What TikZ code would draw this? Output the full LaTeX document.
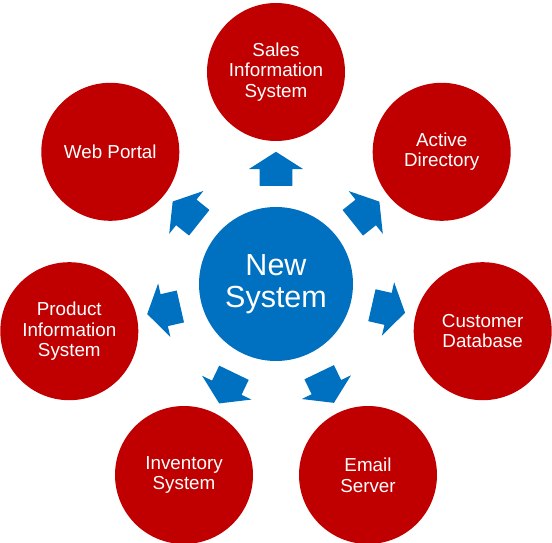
\documentclass[tikz,border=0pt]{standalone}
\usepackage{fontspec}
\setmainfont{Liberation Sans}
\usetikzlibrary{shapes.arrows,calc}
\tikzset{every picture/.style={line width=0.75pt}}
\definecolor{sysred}{RGB}{192,0,0}
\definecolor{sysblue}{RGB}{0,112,192}

\begin{document}
\begin{tikzpicture}[x=1pt, y=1pt,
    outer/.style={circle, fill=sysred, minimum size=138pt, inner sep=0pt, align=center, text=white, font=\fontsize{18.8}{20.6}\selectfont},
    core/.style={circle, fill=sysblue, minimum size=154pt, inner sep=0pt, align=center, text=white, font=\fontsize{30.5}{31.5}\selectfont},
    blockarrow/.style={single arrow, fill=sysblue, minimum height=34pt, inner xsep=0pt, inner ysep=16pt, single arrow head extend=11pt, single arrow tip angle=115}]
    \useasboundingbox (0,0) rectangle (552,542);
    % neues System in der Mitte
    \node[core] (new) at (276,258) {New\\System};
    \node[outer] (sales) at (276,470) {Sales\\Information\\System};
    \node[outer] (active) at (441.7,390.2) {Active\\Directory};
    \node[outer] (customer) at (482.7,210.8) {Customer\\Database};
    \node[outer] (email) at (368,67) {Email\\Server};
    \node[outer] (inventory) at (184,67) {Inventory\\System};
    \node[outer] (product) at (69.3,210.8) {Product\\Information\\System};
    \node[outer] (web) at (110.3,390.2) {Web Portal};
    \foreach \n/\a [evaluate=\a as \b using \a+180] in {sales/90, active/38.57, customer/-12.86, email/-64.29, inventory/-115.71, product/-167.14, web/141.43}
        \node[blockarrow, rotate=\a] (arr-\n) at ($(new.\a)!0.5!(\n.\b)$) {};
\end{tikzpicture}
\end{document}
